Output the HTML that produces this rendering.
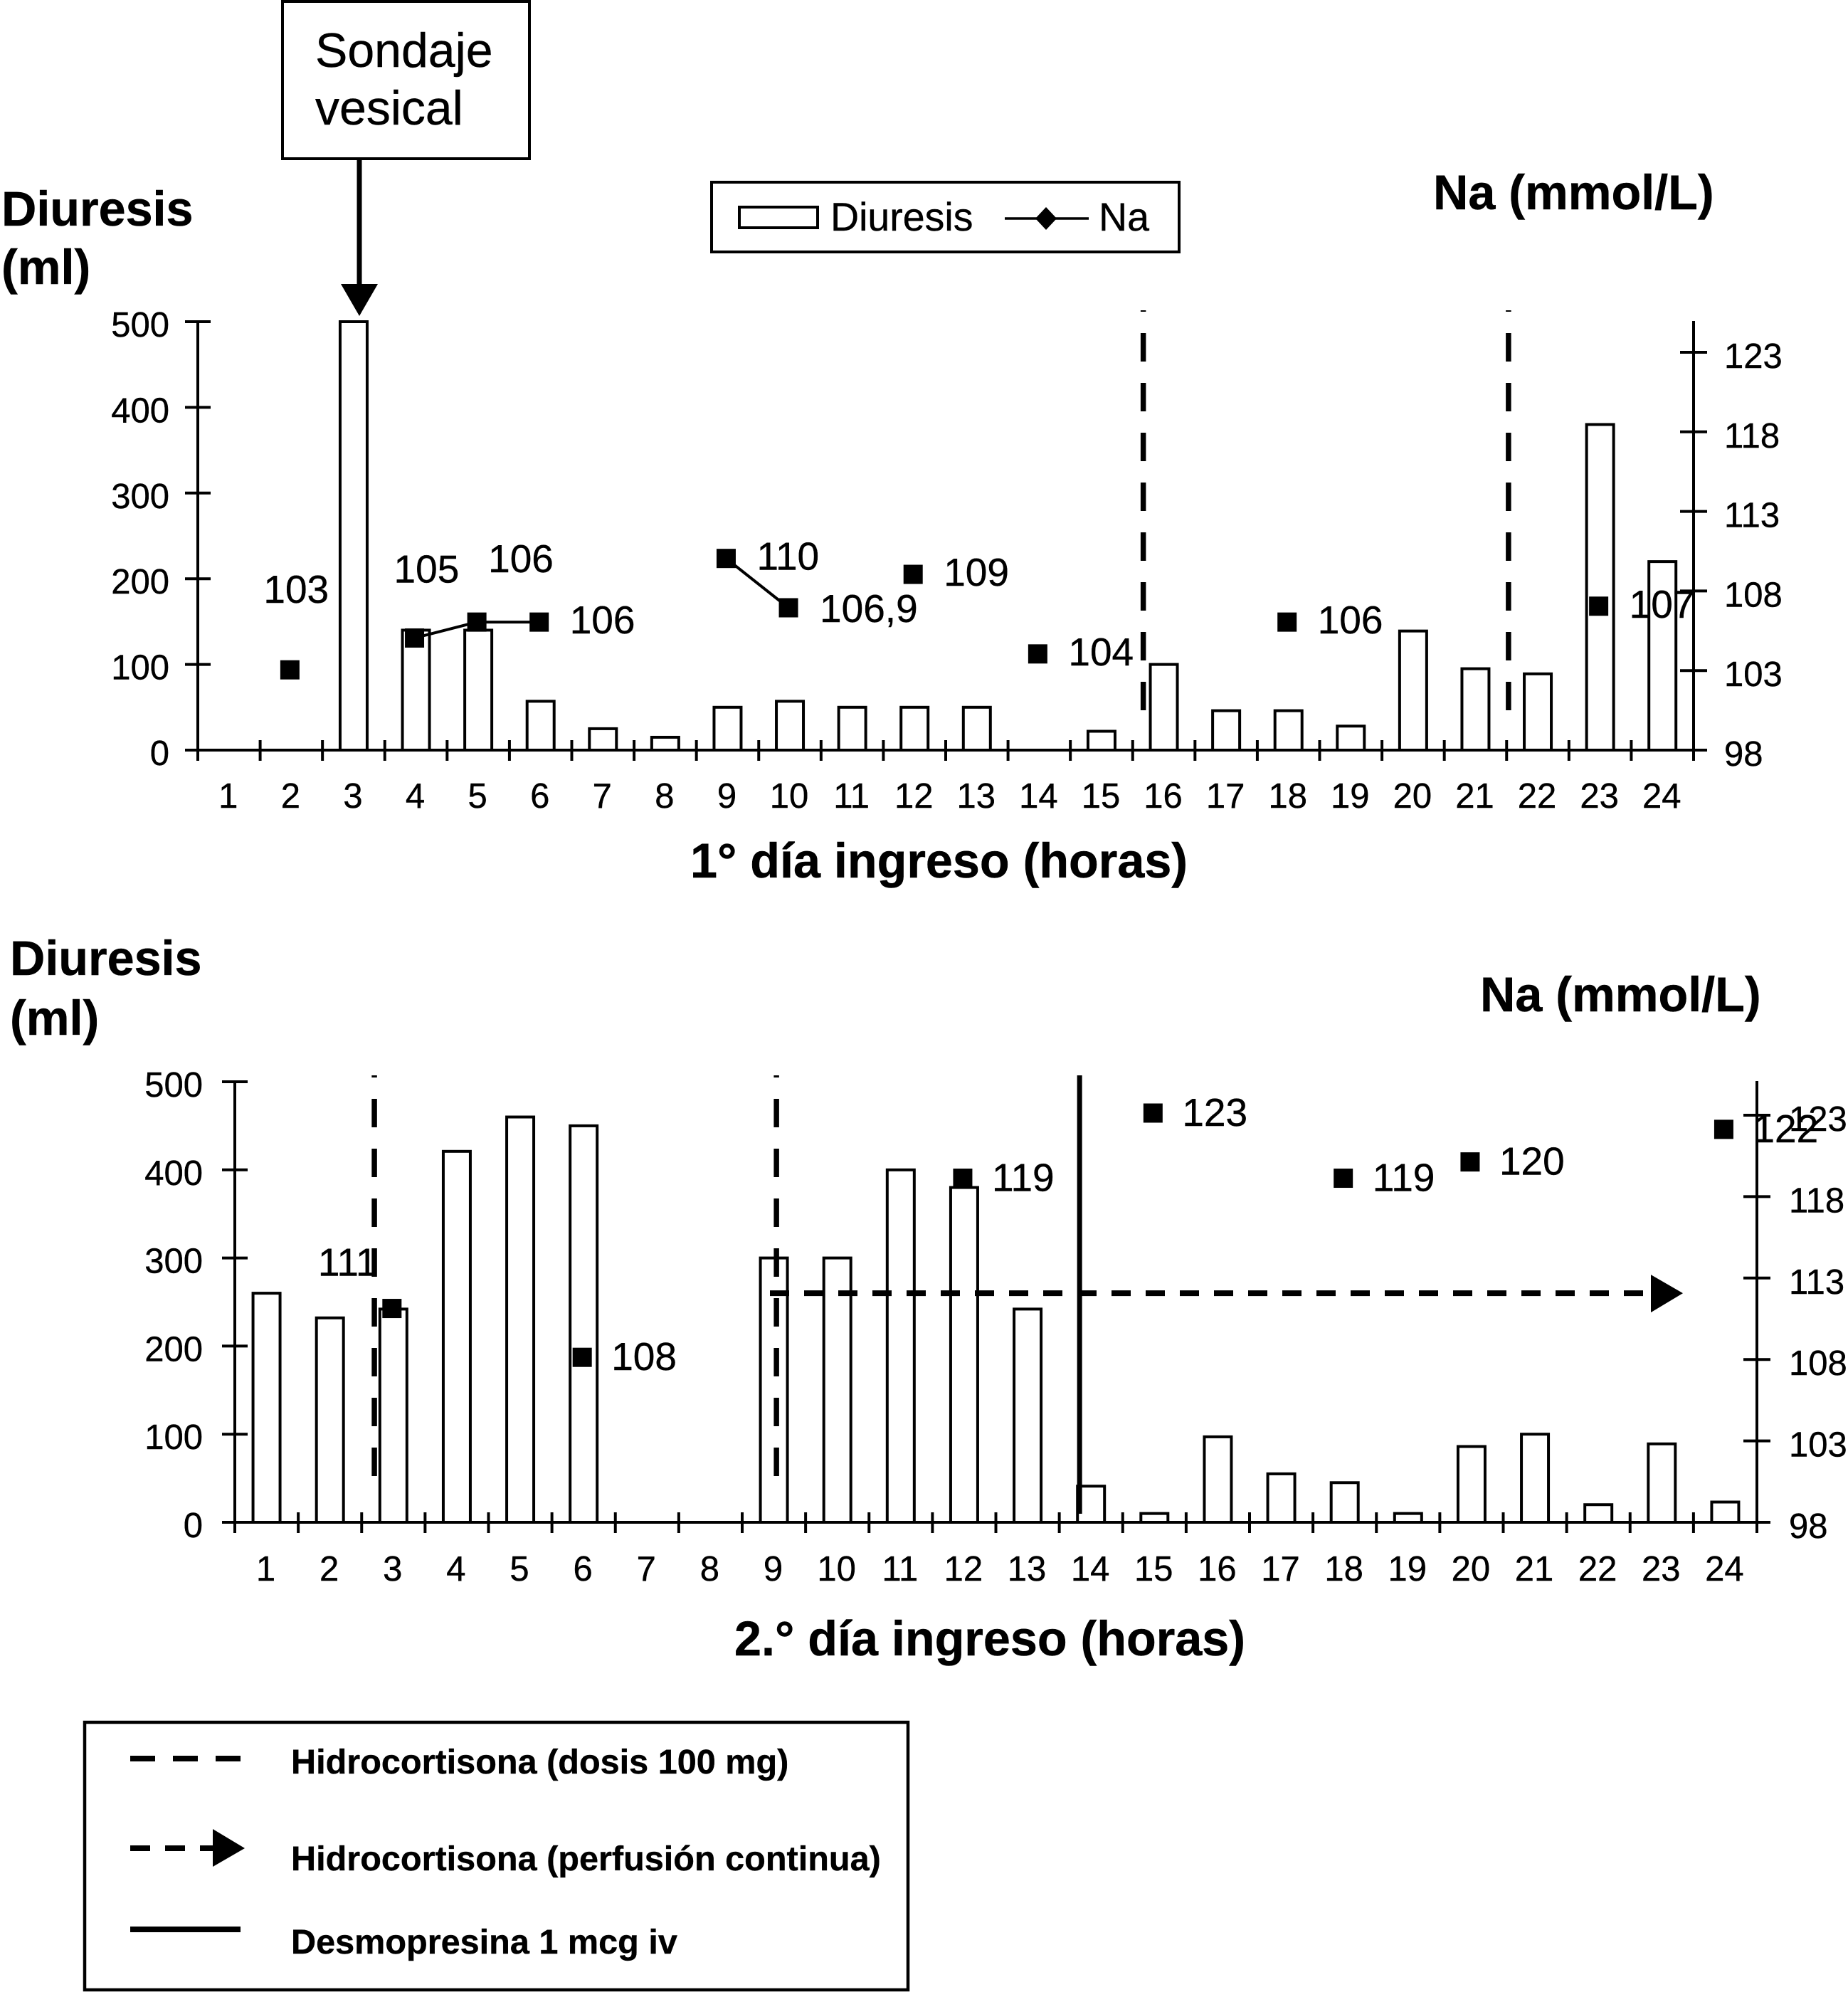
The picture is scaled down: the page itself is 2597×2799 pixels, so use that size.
<!DOCTYPE html>
<html lang="es">
<head>
<meta charset="utf-8">
<title>Diuresis y Na por hora de ingreso</title>
<style>
html,body{margin:0;padding:0;background:#fff;}
svg{display:block;}
text{font-family:"Liberation Sans",Arial,Helvetica,sans-serif;fill:#000;}
.num{font-size:49px;stroke:#000;stroke-width:.4px;}
.lab{font-size:55px;stroke:#000;stroke-width:.4px;}
.ttl{font-size:68.3px;font-weight:bold;stroke:#000;stroke-width:.5px;}
.leg{font-size:48.6px;font-weight:bold;stroke:#000;stroke-width:.4px;}
.big{font-size:68px;stroke:#000;stroke-width:.4px;}
.keytext{font-size:55.5px;stroke:#000;stroke-width:.4px;}
</style>
</head>
<body>
<svg id="figure" xmlns="http://www.w3.org/2000/svg" width="2597" height="2799" viewBox="0 0 2597 2799">
  <rect x="0" y="0" width="2597" height="2799" fill="#fff"/>

  <g>
    <rect x="397" y="2" width="347" height="221" fill="#fff" stroke="#000" stroke-width="4"/>
    <text class="big" x="443" y="94">Sondaje</text>
    <text class="big" x="443" y="175">vesical</text>
    <line x1="505" y1="223" x2="505" y2="402" stroke="#000" stroke-width="7"/>
    <polygon points="479,399 531,399 505,444" fill="#000"/>
  </g>

  <g>
    <rect x="1000" y="256" width="657" height="98" fill="#fff" stroke="#000" stroke-width="4"/>
    <rect x="1039" y="291" width="110" height="29" fill="#fff" stroke="#000" stroke-width="4"/>
    <text class="keytext" x="1167" y="324">Diuresis</text>
    <line x1="1412" y1="307" x2="1530" y2="307" stroke="#000" stroke-width="3.5"/>
    <polygon points="1470,291 1485,307 1470,323 1455,307" fill="#000"/>
    <text class="keytext" x="1544" y="324">Na</text>
  </g>

  <text class="ttl" x="2" y="317">Diuresis</text>
  <text class="ttl" x="2" y="399">(ml)</text>
  <text class="ttl" x="2014" y="294">Na (mmol/L)</text>
  <text class="ttl" x="970" y="1233">1° día ingreso (horas)</text>

  <text class="ttl" x="14" y="1370">Diuresis</text>
  <text class="ttl" x="14" y="1454">(ml)</text>
  <text class="ttl" x="2080" y="1421">Na (mmol/L)</text>
  <text class="ttl" x="1032" y="2326">2.° día ingreso (horas)</text>

  <g id="chart-day1"></g>
  <g id="chart-day2"></g>

  <g>
    <rect x="119" y="2420" width="1157" height="376" fill="#fff" stroke="#000" stroke-width="4.5"/>
    <line x1="183" y1="2471" x2="338" y2="2471" stroke="#000" stroke-width="8" stroke-dasharray="35 25"/>
    <text class="leg" x="409" y="2492">Hidrocortisona (dosis 100 mg)</text>
    <line x1="183" y1="2597" x2="305" y2="2597" stroke="#000" stroke-width="8" stroke-dasharray="28 21"/>
    <polygon points="299,2570 344,2597 299,2623" fill="#000"/>
    <text class="leg" x="409" y="2628">Hidrocortisona (perfusión continua)</text>
    <line x1="183" y1="2711" x2="338" y2="2711" stroke="#000" stroke-width="8"/>
    <text class="leg" x="409" y="2745">Desmopresina 1 mcg iv</text>
  </g>
</svg>

<script>
// ---- chart data ----
const hourCategories = [1,2,3,4,5,6,7,8,9,10,11,12,13,14,15,16,17,18,19,20,21,22,23,24];
const diuresisTicks = [0,100,200,300,400,500];
const naTicks = [98,103,108,113,118,123];

const day1Diuresis = [0,0,500,140,140,57,25,15,50,57,50,50,50,0,22,100,46,46,28,139,95,89,380,220];
const day1Na = [null,103,null,105,106,106,null,null,110,106.9,null,109,null,104,null,null,null,106,null,null,null,null,107,null];
const day1BolusHours = [15.17,21.03];

const day2Diuresis = [260,232,242,421,460,450,0,0,300,300,400,380,242,41,10,97,55,45,10,86,100,20,89,23];
const day2Na = [null,null,111,null,null,108,null,null,null,null,null,119,null,null,123,null,null,119,null,120,null,null,null,122];
const day2BolusHours = [2.2,8.54];
const day2DesmopressinHours = [13.32];
const day2InfusionDiuresisLevel = [260];

// ---- layout (pixels, not data) ----
const day1Layout = {prefix:'day1',x0:278,x1:2380,y0:1054,yTop:452,naSpan:559,markerDy:-1,axisBottom:1069,rightTop:451,
  labelBaseline:1135,tickUp:14,eventTop:436,eventBottom:999,dashOffset:38,leftLabelRight:238,rightLabelX:2423,
  defaultOffset:[43,16],offsets:{2:[-37,-94],4:[-29,-78],5:[16,-70],10:[44,20]}};
const day2Layout = {prefix:'day2',x0:330,x1:2469,y0:2139,yTop:1520,naSpan:572,markerDy:-3,axisBottom:2154,rightTop:1519,
  labelBaseline:2221,tickUp:14,eventTop:1511,eventBottom:2077,dashOffset:37,leftLabelRight:285,rightLabelX:2514,
  defaultOffset:[41,18],offsets:{3:[-104,-46]}};

const SVG_NS = 'http://www.w3.org/2000/svg';
function mk(parent, tag, attrs, content){
  const el = document.createElementNS(SVG_NS, tag);
  for (const k in attrs) el.setAttribute(k, attrs[k]);
  if (content !== undefined) el.textContent = content;
  parent.appendChild(el);
  return el;
}

function drawChart(root, L, diuresis, na, bolusHours){
  const step = (L.x1 - L.x0) / hourCategories.length;
  const xEdge = h => L.x0 + h * step;
  const xCenter = i => L.x0 + (i + 0.5) * step;
  const yLeft = v => L.y0 - (v / diuresisTicks[diuresisTicks.length-1]) * (L.y0 - L.yTop);
  const yNa = v => L.y0 - ((v - naTicks[0]) / (naTicks[naTicks.length-1] - naTicks[0])) * L.naSpan;
  const line = {stroke:'#000','stroke-width':4};

  // bars
  diuresis.forEach((v,i)=>{
    const bar = mk(root,'rect',{x:xCenter(i)-19,y:yLeft(v),width:38,height:L.y0-yLeft(v),fill:'#fff',stroke:'#000','stroke-width':4});
    
    
  });

  // axes
  const leftAxis = mk(root,'line',Object.assign({x1:L.x0,x2:L.x0,y1:L.yTop,y2:L.axisBottom},line));
  
  
  const rightAxis = mk(root,'line',Object.assign({x1:L.x1,x2:L.x1,y1:L.rightTop,y2:L.axisBottom},line));
  
  
  const xAxis = mk(root,'line',Object.assign({x1:L.x0-18,x2:L.x1+19,y1:L.y0,y2:L.y0},line));
  
  

  // x ticks and labels
  for (let k=0;k<=hourCategories.length;k++){
    const t = mk(root,'line',Object.assign({x1:xEdge(k),x2:xEdge(k),y1:L.y0-L.tickUp,y2:L.axisBottom},line));
    
    
  }
  hourCategories.forEach((c,i)=>{
    const t = mk(root,'text',{x:xCenter(i)-1,y:L.labelBaseline,'text-anchor':'middle',class:'num'},c);
    
    
  });

  // left ticks and labels
  diuresisTicks.forEach(v=>{
    const y = yLeft(v);
    const t = mk(root,'line',Object.assign({x1:L.x0-18,x2:L.x0+18,y1:y,y2:y},line));
    
    
    const s = mk(root,'text',{x:L.leftLabelRight,y:y+21,'text-anchor':'end',class:'num'},v);
    
    
  });

  // right ticks and labels
  naTicks.forEach(v=>{
    const y = yNa(v);
    const t = mk(root,'line',Object.assign({x1:L.x1-19,x2:L.x1+19,y1:y,y2:y},line));
    
    
    const s = mk(root,'text',{x:L.rightLabelX,y:y+22,class:'num'},v);
    
    
  });

  // bolus dashed verticals
  bolusHours.forEach(h=>{
    const d = mk(root,'line',{x1:xEdge(h),x2:xEdge(h),y1:L.eventTop,y2:L.eventBottom,stroke:'#000','stroke-width':7.5,'stroke-dasharray':'40 30','stroke-dashoffset':L.dashOffset});
    
    
  });

  // Na connecting segments
  na.forEach((v,i)=>{
    if (v===null || i===0 || na[i-1]===null) return;
    const seg = mk(root,'line',{x1:xCenter(i-1)-2,y1:yNa(na[i-1])+L.markerDy,x2:xCenter(i)-2,y2:yNa(v)+L.markerDy,stroke:'#000','stroke-width':4});
    
    
  });

  // Na markers and labels
  na.forEach((v,i)=>{
    if (v===null) return;
    const cx = xCenter(i)-2, cy = yNa(v)+L.markerDy;
    const m = mk(root,'rect',{x:cx-13.5,y:cy-13.5,width:27,height:27,fill:'#000'});
    
    
    const off = L.offsets[hourCategories[i]] || L.defaultOffset;
    const s = mk(root,'text',{x:cx+off[0],y:cy+off[1],class:'lab'},String(v).replace('.',','));
    
    
  });

  return {xEdge,yLeft};
}

drawChart(document.getElementById('chart-day1'), day1Layout, day1Diuresis, day1Na, day1BolusHours);

const day2Root = document.getElementById('chart-day2');
const day2Axes = drawChart(day2Root, day2Layout, day2Diuresis, day2Na, day2BolusHours);

day2DesmopressinHours.forEach(h=>{
  const d = mk(day2Root,'line',{x1:day2Axes.xEdge(h),x2:day2Axes.xEdge(h),y1:1511,y2:2127,stroke:'#000','stroke-width':7});
  
  
});

day2InfusionDiuresisLevel.forEach(v=>{
  const y = day2Axes.yLeft(v);
  const d = mk(day2Root,'line',{x1:1082,x2:2322,y1:y,y2:y,stroke:'#000','stroke-width':8,'stroke-dasharray':'27 21'});
  
  
  const head = mk(day2Root,'polygon',{points:'2320,'+(y-26)+' 2365,'+y+' 2320,'+(y+27),fill:'#000'});
  
  
});
</script>
</body>
</html>
